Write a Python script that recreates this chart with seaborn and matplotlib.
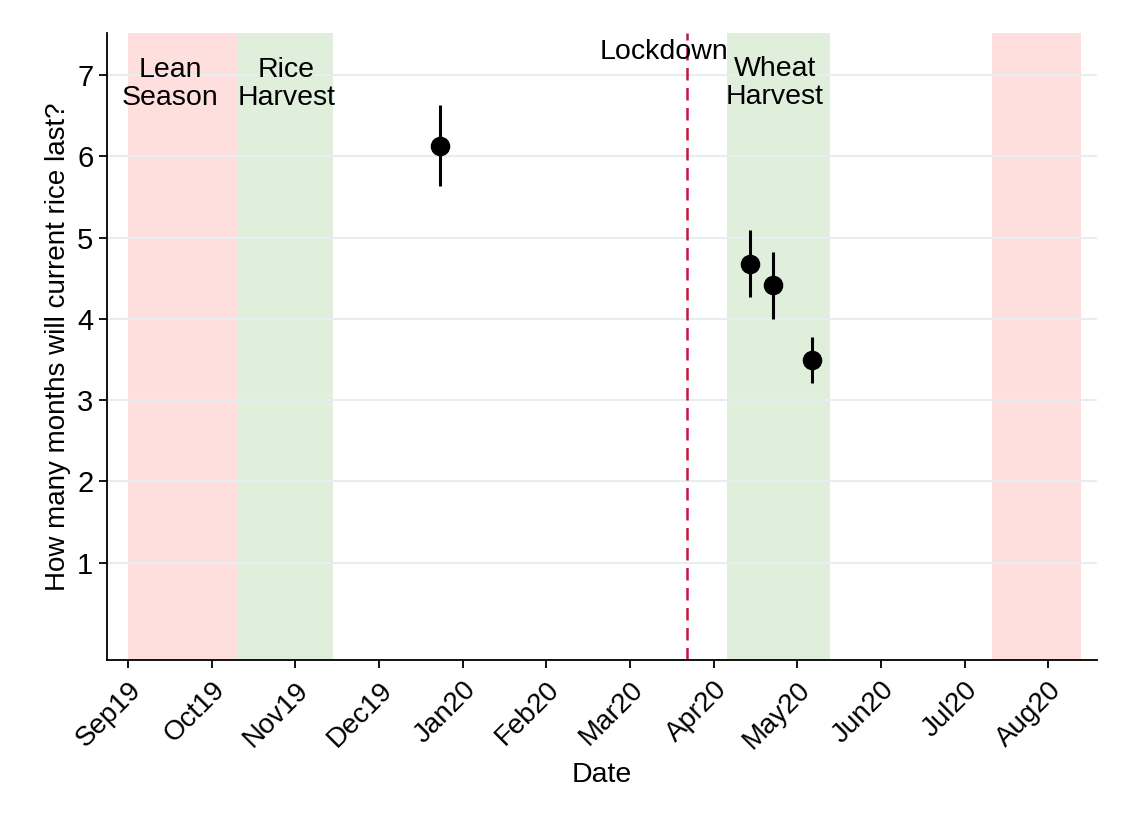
import numpy as np
import pandas as pd
import matplotlib
matplotlib.use("Agg")
import matplotlib.pyplot as plt
import matplotlib.transforms as mtransforms
import seaborn as sns

# x axis in months since Sep 2019 (ticks are evenly spaced)
month_labels = ["Sep19", "Oct19", "Nov19", "Dec19", "Jan20", "Feb20",
                "Mar20", "Apr20", "May20", "Jun20", "Jul20", "Aug20"]
survey_month = [3.73, 7.43, 7.71, 8.17]
rice_months = [6.13, 4.68, 4.42, 3.49]
ci_low = [5.63, 4.27, 4.00, 3.21]
ci_high = [6.63, 5.09, 4.82, 3.78]

lockdown = 6.68
lean_periods = [(0.0, 1.30), (10.33, 11.39)]
harvest_periods = [(1.30, 2.45), (7.16, 8.39)]

df = pd.DataFrame({"month": survey_month, "rice": rice_months,
                   "lo": ci_low, "hi": ci_high})

sns.set_style("white")
plt.rcParams["font.family"] = ["Liberation Sans", "DejaVu Sans"]
for k in ["text.color", "axes.labelcolor", "xtick.color", "ytick.color"]:
    plt.rcParams[k] = "black"

fig = plt.figure(figsize=(11.28, 8.23), dpi=100)
ax = fig.add_axes([0.095, 0.198, 0.8775, 0.762])

# shaded seasons
for a, b in lean_periods:
    ax.axvspan(a, b, color="#FFDEDE", lw=0, zorder=0)
for a, b in harvest_periods:
    ax.axvspan(a, b, color="#DFEFDB", lw=0, zorder=0)

# horizontal grid
for yv in range(1, 8):
    ax.axhline(yv, color="#E6EEF0", lw=1.5, zorder=1)

ax.axvline(lockdown, color="#C8143C", ls=(0, (5, 3)), lw=1.8, zorder=2)

ax.vlines(df["month"], df["lo"], df["hi"], color="black", lw=2.2, zorder=3)
sns.scatterplot(data=df, x="month", y="rice", ax=ax, color="black",
                s=170, edgecolor="black", zorder=4, legend=False)

lab_fs = 20.5
ax.text(0.5, 6.89, "Lean\nSeason", ha="center", va="center", fontsize=lab_fs,
        linespacing=1.08)
ax.text(1.89, 6.89, "Rice\nHarvest", ha="center", va="center", fontsize=lab_fs,
        linespacing=1.08)
ax.text(7.73, 6.90, "Wheat\nHarvest", ha="center", va="center", fontsize=lab_fs,
        linespacing=1.08)
ax.text(6.40, 7.28, "Lockdown", ha="center", va="center", fontsize=lab_fs)

ax.set_xlim(-0.25, 11.58)
ax.set_ylim(-0.2, 7.52)
ax.set_xticks(range(len(month_labels)))
ax.set_xticklabels(month_labels, rotation=45, ha="right",
                   rotation_mode="anchor", fontsize=20)
# nudge rotated labels so their ends sit under the ticks
shift = mtransforms.ScaledTranslation(-6 / 72, 0, fig.dpi_scale_trans)
for lbl in ax.get_xticklabels():
    lbl.set_transform(lbl.get_transform() + shift)
ax.set_yticks(range(1, 8))
ax.tick_params(axis="y", labelsize=21, length=6, width=1.3, pad=4, left=True)
ax.tick_params(axis="x", length=6, width=1.3, pad=6, bottom=True)
ax.set_xlabel("Date", fontsize=20.5, labelpad=6)
ax.set_ylabel("How many months will current rice last?", fontsize=20)

sns.despine(ax=ax)
for s in ["left", "bottom"]:
    ax.spines[s].set_color("black")
    ax.spines[s].set_linewidth(1.3)

fig.savefig("out.png", dpi=100)
